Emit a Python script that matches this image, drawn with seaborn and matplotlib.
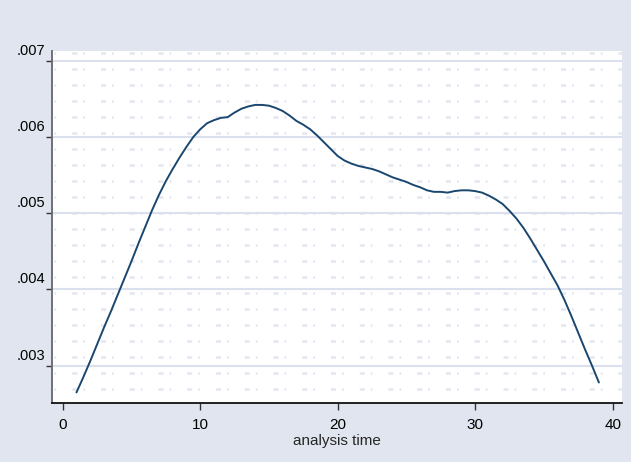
import numpy as np
import pandas as pd
import seaborn as sns
import matplotlib
matplotlib.use("Agg")
import matplotlib.pyplot as plt
from matplotlib.transforms import ScaledTranslation

# smoothed hazard, every half unit
analysis_time = [1, 1.5, 2, 2.5, 3, 3.5, 4, 4.5, 5, 5.5,
                 6, 6.5, 7, 7.5, 8, 8.5, 9, 9.5, 10, 10.5,
                 11, 11.5, 12, 12.5, 13, 13.5, 14, 14.5, 15, 15.5,
                 16, 16.5, 17, 17.5, 18, 18.5, 19, 19.5, 20, 20.5,
                 21, 21.5, 22, 22.5, 23, 23.5, 24, 24.5, 25, 25.5,
                 26, 26.5, 27, 27.5, 28, 28.5, 29, 29.5, 30, 30.5,
                 31, 31.5, 32, 32.5, 33, 33.5, 34, 34.5, 35, 35.5,
                 36, 36.5, 37, 37.5, 38, 38.5, 39]
hazard = [0.00265, 0.00285, 0.00306, 0.00328, 0.00350, 0.00371, 0.00393, 0.00415, 0.00437, 0.00460,
          0.00482, 0.00504, 0.00524, 0.00542, 0.00558, 0.00573, 0.00587, 0.00600, 0.00610, 0.00618,
          0.00622, 0.00625, 0.00626, 0.00632, 0.00637, 0.00640, 0.00642, 0.00642, 0.00641, 0.00638,
          0.00634, 0.00628, 0.00621, 0.00616, 0.00610, 0.00602, 0.00593, 0.00584, 0.00575, 0.00569,
          0.00565, 0.00562, 0.00560, 0.00558, 0.00555, 0.00551, 0.00547, 0.00544, 0.00541, 0.00537,
          0.00534, 0.00530, 0.00528, 0.00528, 0.00527, 0.00529, 0.00530, 0.00530, 0.00529, 0.00527,
          0.00523, 0.00518, 0.00512, 0.00503, 0.00493, 0.00481, 0.00467, 0.00452, 0.00437, 0.00421,
          0.00405, 0.00386, 0.00365, 0.00343, 0.00321, 0.00300, 0.00278]

yticks = [0.003, 0.004, 0.005, 0.006, 0.007]
ytick_labels = ['.003', '.004', '.005', '.006', '.007']
xticks = [0, 10, 20, 30, 40]
xtick_labels = ['0', '10', '20', '30', '40']

df = pd.DataFrame({'t': analysis_time, 'h': hazard})

sns.set_theme(style='white')
plt.rcParams['font.family'] = ['Liberation Sans', 'DejaVu Sans']

bg = '#e1e5ef'
W, H = 631, 462
fig = plt.figure(figsize=(W / 100, H / 100), dpi=100, facecolor=bg)
ax = fig.add_axes([52 / W, 1 - 403 / H, 570 / W, 352 / H])
ax.set_facecolor('white')

# faint dotted texture in the plot region
for k in range(22):
    yf = 1 - (1.7 + 16 * k) / 352
    ax.plot([0, 1], [yf, yf], transform=ax.transAxes, color='#e3e6f0',
            lw=1.8, linestyle=(3.6, (2.0, 2.4, 0.7, 6.4)), zorder=0.5)

for yv in yticks:
    ax.axhline(yv, color='#dbe0ef', lw=1.5, zorder=0.8)

sns.lineplot(data=df, x='t', y='h', ax=ax, color='#1a476f', lw=1.4, zorder=3)

ax.set_xlim(-0.78, 40.68)
ax.set_ylim(0.002511, 0.007127)
ax.set_xticks(xticks)
ax.set_xticklabels(xtick_labels)
ax.set_yticks(yticks)
ax.set_yticklabels(ytick_labels)

ax.tick_params(axis='y', length=4, width=1, color='#333333', pad=1, labelsize=10.5, colors='black')
ax.tick_params(axis='x', length=5, width=1, color='#333333', pad=6, labelsize=11, colors='black')
ax.tick_params(left=True, bottom=True)
shift = ScaledTranslation(0, 3 / 100, fig.dpi_scale_trans)
for lab in ax.get_yticklabels():
    lab.set_va('bottom')
    lab.set_transform(lab.get_transform() + shift)

for s in ['top', 'right']:
    ax.spines[s].set_visible(False)
ax.spines['left'].set_color('#666666')
ax.spines['left'].set_linewidth(1.3)
ax.spines['bottom'].set_color('#111111')
ax.spines['bottom'].set_linewidth(1.3)

ax.set_ylabel('')
ax.set_xlabel('analysis time', fontsize=11, labelpad=1)

fig.savefig('out.png', dpi=100, facecolor=bg)
